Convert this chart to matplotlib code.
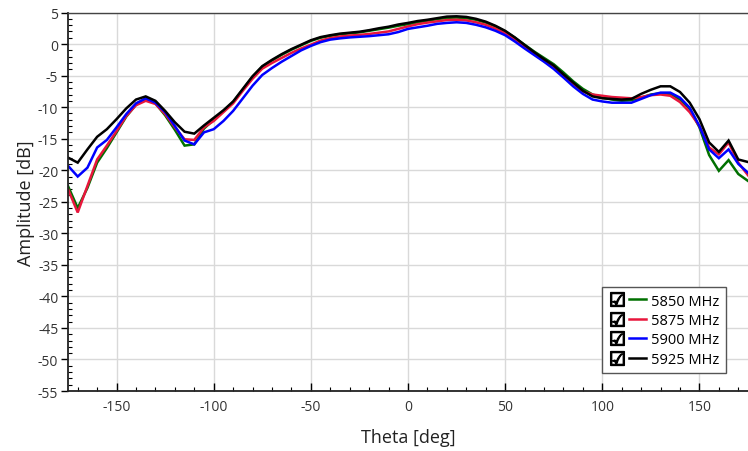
import numpy as np
import matplotlib
matplotlib.use("Agg")
import matplotlib.pyplot as plt
from matplotlib.lines import Line2D
from matplotlib.legend_handler import HandlerTuple
from matplotlib.ticker import MultipleLocator

# theta sweep, 5 deg steps
theta = np.arange(-175, 176, 5)

amp_5850 = [-22.5, -26.0, -22.8, -18.8, -16.5, -14.0, -11.5, -9.6, -8.8, -9.4,
            -11.3, -13.6, -16.1, -15.9, -13.4, -12.0, -10.6, -9.2, -7.2, -5.2,
            -3.6, -2.6, -1.7, -0.9, -0.2, 0.5, 1.0, 1.3, 1.55, 1.7,
            1.85, 2.1, 2.35, 2.6, 2.9, 3.15, 3.45, 3.7, 3.95, 4.15,
            4.2, 4.1, 3.85, 3.4, 2.8, 2.0, 1.0, -0.1, -1.2, -2.2,
            -3.2, -4.5, -5.9, -7.1, -8.0, -8.5, -8.8, -9.0, -8.9, -8.5,
            -8.0, -7.8, -7.9, -8.8, -10.3, -13.2, -17.6, -20.1, -18.4, -20.6,
            -21.7]
amp_5875 = [-23.0, -26.7, -22.5, -18.3, -16.1, -13.8, -11.4, -9.7, -9.0, -9.5,
            -11.1, -13.2, -15.1, -15.2, -13.2, -12.2, -10.8, -9.4, -7.4, -5.5,
            -3.9, -3.0, -2.2, -1.4, -0.7, -0.1, 0.55, 0.95, 1.2, 1.35,
            1.45, 1.6, 1.8, 2.0, 2.4, 2.8, 3.15, 3.4, 3.6, 3.8,
            3.85, 3.75, 3.45, 3.05, 2.45, 1.7, 0.7, -0.5, -1.6, -2.7,
            -3.7, -5.0, -6.4, -7.5, -8.0, -8.2, -8.4, -8.5, -8.6, -8.4,
            -8.1, -8.0, -8.2, -9.2, -10.8, -13.0, -16.4, -17.5, -15.6, -18.8,
            -20.8]
amp_5900 = [-19.3, -21.0, -19.6, -16.4, -15.2, -13.2, -11.1, -9.4, -8.6, -9.3,
            -10.8, -13.0, -15.3, -15.9, -14.0, -13.5, -12.2, -10.6, -8.6, -6.6,
            -4.9, -3.8, -2.8, -1.9, -1.0, -0.3, 0.3, 0.7, 0.9, 1.05,
            1.15, 1.25, 1.4, 1.55, 1.9, 2.4, 2.65, 2.9, 3.2, 3.35,
            3.45, 3.35, 3.05, 2.65, 2.1, 1.4, 0.4, -0.7, -1.75, -2.8,
            -3.95, -5.3, -6.7, -7.9, -8.8, -9.1, -9.3, -9.3, -9.3, -8.7,
            -8.1, -7.7, -7.7, -8.5, -10.1, -13.0, -16.7, -18.1, -16.7, -19.0,
            -20.4]
amp_5925 = [-18.0, -18.8, -16.7, -14.7, -13.5, -11.9, -10.2, -8.8, -8.3, -9.0,
            -10.6, -12.4, -13.9, -14.2, -12.9, -11.7, -10.5, -9.1, -7.1, -5.1,
            -3.5, -2.5, -1.6, -0.8, -0.1, 0.6, 1.1, 1.4, 1.65, 1.8,
            1.95, 2.2, 2.5, 2.75, 3.1, 3.35, 3.65, 3.85, 4.1, 4.35,
            4.4, 4.3, 4.0, 3.55, 2.9, 2.1, 1.05, -0.15, -1.3, -2.4,
            -3.4, -4.8, -6.1, -7.4, -8.3, -8.6, -8.7, -8.8, -8.7, -7.9,
            -7.25, -6.7, -6.7, -7.6, -9.3, -11.9, -15.6, -17.1, -15.3, -18.3,
            -18.7]

labels = ["5850 MHz", "5875 MHz", "5900 MHz", "5925 MHz"]
colors = ["#007000", "#e8163c", "#0000ff", "#000000"]
series = [amp_5850, amp_5875, amp_5900, amp_5925]

plt.rcParams["font.family"] = ["Open Sans", "DejaVu Sans"]
plt.rcParams["axes.unicode_minus"] = False

fig = plt.figure(figsize=(7.48, 4.52), dpi=100)
ax = fig.add_axes([68 / 748, 1 - 392 / 452, 1 - 68 / 748, (392 - 13.5) / 452])

lines = []
for y, c, lab in zip(series, colors, labels):
    ln, = ax.plot(theta, y, color=c, lw=1.8, label=lab, solid_joinstyle="miter")
    lines.append(ln)

ax.set_xlim(-175, 175)
ax.set_ylim(-55, 5)
ax.xaxis.set_major_locator(MultipleLocator(50))
ax.xaxis.set_minor_locator(MultipleLocator(10))
ax.yaxis.set_major_locator(MultipleLocator(5))
ax.yaxis.set_minor_locator(MultipleLocator(1))
ax.grid(which="major", color="#d9d9d9", lw=1.0)
ax.set_axisbelow(True)

for s in ["left", "bottom"]:
    ax.spines[s].set_color("#222222")
    ax.spines[s].set_linewidth(1.3)
ax.spines["top"].set_color("#444444")
ax.spines["top"].set_linewidth(1.0)
ax.spines["right"].set_visible(False)

ax.tick_params(axis="x", which="major", direction="in", length=6, width=1.0,
               labelsize=10, labelcolor="#333333", pad=6)
ax.tick_params(axis="x", which="minor", direction="in", length=3, width=0.8)
ax.tick_params(axis="y", which="major", direction="out", length=5, width=1.0,
               labelsize=10, labelcolor="#333333", pad=2)
ax.tick_params(axis="y", which="minor", direction="in", length=3, width=0.8)

ax.set_xlabel("Theta [deg]", fontsize=13, color="#222222", labelpad=10)
ax.set_ylabel("Amplitude [dB]", fontsize=13, color="#222222", labelpad=2)

# checkbox + line handles, like the original widget legend
check = [Line2D([], [], ls="none", marker="$\u2611$", color="black", markersize=10)
         for _ in labels]
handles = [(ck, ln) for ck, ln in zip(check, lines)]
leg = ax.legend(handles, labels, loc="lower right", bbox_to_anchor=(0.9676, 0.047),
                borderaxespad=0.0,
                handler_map={tuple: HandlerTuple(ndivide=None, pad=0.3)},
                handlelength=2.6, handletextpad=0.35, labelspacing=0.3,
                fontsize=10.5, frameon=True, fancybox=False, borderpad=0.45,
                edgecolor="#555555", framealpha=1.0)
leg.get_frame().set_linewidth(1.0)

fig.savefig("out.png", dpi=100)
